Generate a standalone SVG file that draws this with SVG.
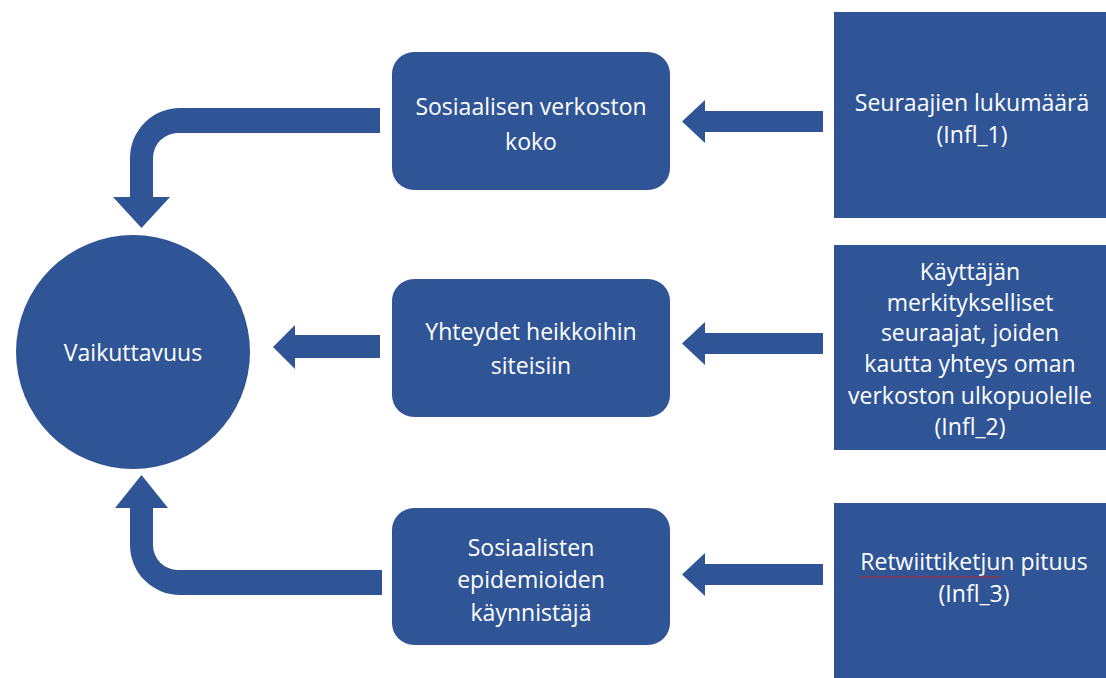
<svg xmlns="http://www.w3.org/2000/svg" width="1106" height="678" viewBox="0 0 1106 678">
<style>
.s{fill:#2F5597}
.t{fill:#fff;font-family:"Open Sans","Liberation Sans",sans-serif;font-size:23px;text-anchor:middle}
</style>
<rect width="1106" height="678" fill="#fff"/>
<g id="connectors" class="s">
<path d="M823,111 L705,111 L705,100 L682,121.5 L705,143 L705,132 L823,132 Z"/>
<path d="M823,333 L705,333 L705,322 L682,343.5 L705,365 L705,354 L823,354 Z"/>
<path d="M823,564 L705,564 L705,553 L682,574.5 L705,596 L705,585 L823,585 Z"/>
<path d="M380,335 L295,335 L295,325 L273,347 L295,369 L295,358 L380,358 Z"/>
<path d="M380,108 L180,108 A50,50 0 0 0 130,158 L130,197 L113,197 L141.5,228 L170,197 L153,197 L153,158 A25,25 0 0 1 178,133 L380,133 Z"/>
<path d="M382,595 L180,595 A50,50 0 0 1 130,545 L130,508 L115,508 L141.5,475 L168,508 L153,508 L153,545 A25,25 0 0 0 178,570 L382,570 Z"/>
</g>
<g id="n-vaikuttavuus">
<ellipse class="s" cx="133" cy="352" rx="117" ry="117"/>
<text class="t" x="133" y="361">Vaikuttavuus</text>
</g>
<g id="n-verkoston-koko">
<rect class="s" x="392" y="52" width="278" height="138" rx="22"/>
<text class="t" x="531" y="115">Sosiaalisen verkoston</text>
<text class="t" x="531" y="150">koko</text>
</g>
<g id="n-heikot-siteet">
<rect class="s" x="392" y="279" width="278" height="138" rx="22"/>
<text class="t" x="531" y="340">Yhteydet heikkoihin</text>
<text class="t" x="531" y="374">siteisiin</text>
</g>
<g id="n-epidemiat">
<rect class="s" x="392" y="508" width="278" height="137" rx="22"/>
<text class="t" x="531" y="556">Sosiaalisten</text>
<text class="t" x="531" y="588">epidemioiden</text>
<text class="t" x="531" y="621">käynnistäjä</text>
</g>
<g id="n-infl1">
<rect class="s" x="834" y="12" width="272" height="206"/>
<text class="t" x="972" y="111">Seuraajien lukumäärä</text>
<text class="t" x="972" y="143">(Infl_1)</text>
</g>
<g id="n-infl2">
<rect class="s" x="834" y="245" width="272" height="205"/>
<text class="t" x="970" y="280">Käyttäjän</text>
<text class="t" x="970" y="311">merkitykselliset</text>
<text class="t" x="970" y="341">seuraajat, joiden</text>
<text class="t" x="970" y="372">kautta yhteys oman</text>
<text class="t" x="970" y="404">verkoston ulkopuolelle</text>
<text class="t" x="970" y="435">(Infl_2)</text>
</g>
<g id="n-infl3">
<rect class="s" x="834" y="503" width="272" height="175"/>
<text class="t" x="974" y="570">Retwiittiketjun pituus</text>
<text class="t" x="974" y="602">(Infl_3)</text>
<path d="M860,577 q1.5,-2 3,0 t3,0 t3,0 t3,0 t3,0 t3,0 t3,0 t3,0 t3,0 t3,0 t3,0 t3,0 t3,0 t3,0 t3,0 t3,0 t3,0 t3,0 t3,0 t3,0 t3,0 t3,0 t3,0 t3,0 t3,0 t3,0 t3,0 t3,0 t3,0 t3,0 t3,0 t3,0 t3,0 t3,0 t3,0 t3,0 t3,0 t3,0 t3,0 t3,0 t3,0 t3,0 t3,0 t3,0 t3,0 t3,0 t3,0" fill="none" stroke="#d02020" stroke-width="1"/>
</g>
</svg>
